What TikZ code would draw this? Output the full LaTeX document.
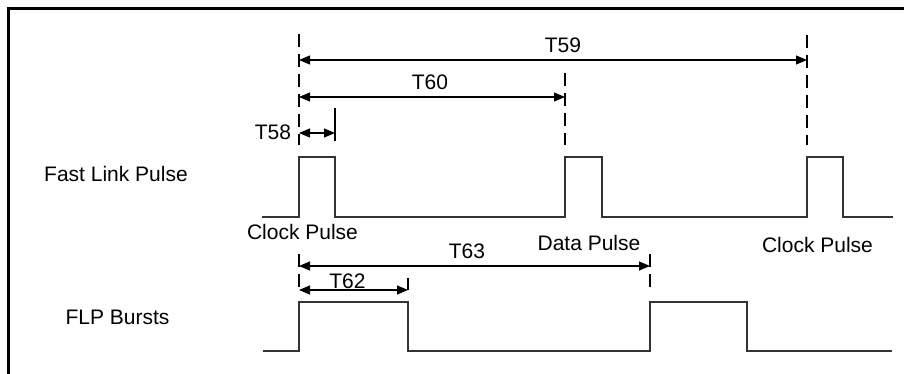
\documentclass[tikz,border=0pt]{standalone}
\usepackage{fontspec}
\setmainfont{Liberation Sans}
\usetikzlibrary{arrows.meta}
\tikzset{
  wave/.style={line width=0.55pt, black!80},
  guide/.style={line width=0.9pt, dash pattern=on 6.5pt off 3.5pt},
  tick/.style={line width=0.9pt},
  dimarrow/.style={line width=0.55pt, {Triangle[length=5.5pt,width=4.5pt]}-{Triangle[length=5.5pt,width=4.5pt]}},
  lbl/.style={anchor=base, inner sep=0pt, font=\fontsize{10.5}{12}\selectfont},
}
\begin{document}
\begin{tikzpicture}[x=0.5pt,y=-0.5pt]
\useasboundingbox (0,0) rectangle (904,374);
\draw[line width=1.5pt] (8.7,374) -- (8.7,8.7) -- (904,8.7);
\node[lbl] (flp) at (116,181.7){Fast Link Pulse};
\node[lbl] (burst) at (117.5,324){FLP Bursts};
\draw[wave] (262,217) -- (299,217) -- (299,157) -- (335,157) -- (335,217) -- (565,217) -- (565,157) -- (602,157) -- (602,217) -- (807,217) -- (807,157) -- (843,157) -- (843,217) -- (893,217);
\draw[wave] (263,351) -- (299,351) -- (299,302) -- (408,302) -- (408,351) -- (650,351) -- (650,302) -- (747,302) -- (747,351) -- (892,351);
\coordinate (g1a) at (299,34);
\coordinate (g1b) at (299,145);
\coordinate (g2a) at (565,73);
\coordinate (g2b) at (565,145);
\coordinate (g3a) at (807,35);
\coordinate (g3b) at (807,145);
\coordinate (g4a) at (335,108);
\coordinate (g4b) at (335,141);
\draw[guide] (g1a) -- (g1b);
\draw[guide] (g2a) -- (g2b);
\draw[guide] (g3a) -- (g3b);
\draw[tick] (g4a) -- (g4b);
\coordinate (t59a) at (299,60);
\coordinate (t59b) at (807,60);
\coordinate (t60a) at (299,97);
\coordinate (t60b) at (565,97);
\coordinate (t58a) at (299,133);
\coordinate (t58b) at (335,133);
\draw[dimarrow] (t59a) -- (t59b);
\draw[dimarrow] (t60a) -- (t60b);
\draw[dimarrow] (t58a) -- (t58b);
\node[lbl] (t59) at (563,52.5){T59};
\node[lbl] (t60) at (430,89.3){T60};
\node[lbl] (t58) at (273,140){T58};
\node[lbl] (clk1) at (302.5,239){Clock Pulse};
\node[lbl] (data) at (589,250){Data Pulse};
\node[lbl] (clk2) at (817.5,252.3){Clock Pulse};
\coordinate (g5a) at (299,254);
\coordinate (g5b) at (299,287);
\coordinate (g6a) at (650,254);
\coordinate (g6b) at (650,287);
\coordinate (g7a) at (408,278);
\coordinate (g7b) at (408,290);
\draw[tick, dash pattern=on 6.5pt off 3.5pt] (g5a) -- (g5b);
\draw[tick, dash pattern=on 6.5pt off 3.5pt] (g6a) -- (g6b);
\draw[tick] (g7a) -- (g7b);
\coordinate (t63a) at (299,266);
\coordinate (t63b) at (650,266);
\coordinate (t62a) at (299,290);
\coordinate (t62b) at (408,290);
\draw[dimarrow] (t63a) -- (t63b);
\draw[dimarrow] (t62a) -- (t62b);
\node[lbl] (t63) at (467,258.3){T63};
\node[lbl] (t62) at (347.5,288.3){T62};
\end{tikzpicture}
\end{document}
